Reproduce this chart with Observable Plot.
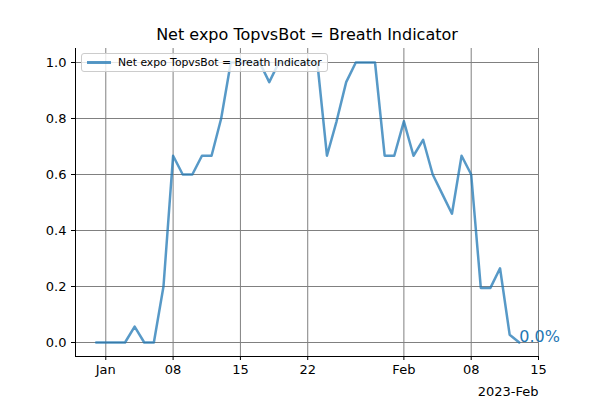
<!DOCTYPE html>
<html>
<head>
<meta charset="UTF-8">
<script src="https://cdn.jsdelivr.net/npm/d3@7"></script>
<script src="https://cdn.jsdelivr.net/npm/@observablehq/plot@0.6"></script>
<style>
  body { margin: 0; font-family: "DejaVu Sans", sans-serif; }
  #wrap { position: relative; width: 600px; height: 400px; }
  #legend {
    position: absolute; left: 81px; top: 53px; padding: 2px 5px;
    border: 1px solid #ccc; border-radius: 3px; background: rgba(255,255,255,0.8);
    font-size: 10.8px; display: flex; align-items: center; gap: 7px;
  }
  #legend span.sw { display: inline-block; width: 24px; height: 2.5px; background: #1f77b4; opacity: 0.75; }
</style>
</head>
<body>
<div id="wrap"><div id="legend"><span class="sw"></span>Net expo TopvsBot = Breath Indicator</div></div>
<script>
  const startDate = "2022-12-31";
  // daily values, Dec 31 2022 .. Feb 13 2023
  const values = [
    0, 0, 0, 0, 0.057, 0, 0, 0.2, 0.667, 0.6, 0.6, 0.667, 0.667, 0.8, 1.0,
    1.0, 1.0, 1.0, 0.93, 1.0, 1.0, 1.0, 1.0, 1.0, 0.667, 0.79, 0.93, 1.0, 1.0, 1.0,
    0.667, 0.667, 0.79, 0.667, 0.724, 0.6, 0.53, 0.46, 0.667, 0.6, 0.195, 0.195, 0.265, 0.028, 0
  ];
  const tickDates = ["2023-01-01", "2023-01-08", "2023-01-15", "2023-01-22", "2023-02-01", "2023-02-08", "2023-02-15"];
  const tickLabels = ["Jan", "08", "15", "22", "Feb", "08", "15"];
  const yTicks = [0, 0.2, 0.4, 0.6, 0.8, 1.0];

  const t0 = new Date(startDate + "T00:00:00Z");
  const data = values.map((v, i) => ({ date: new Date(+t0 + i * 864e5), v }));
  const ticks = tickDates.map(d => new Date(d + "T00:00:00Z"));
  const last = data[data.length - 1];

  const plot = Plot.plot({
    width: 600, height: 400,
    marginLeft: 75, marginRight: 62, marginTop: 48, marginBottom: 44,
    style: { fontFamily: "DejaVu Sans, sans-serif", fontSize: "13px", color: "#000" },
    x: { type: "utc", domain: [new Date(+t0 - 2.15 * 864e5), new Date("2023-02-15T00:00:00Z")] },
    y: { domain: [-0.05, 1.05] },
    marks: [
      Plot.gridX(ticks, { stroke: "#808080", strokeOpacity: 1 }),
      Plot.gridY(yTicks, { stroke: "#808080", strokeOpacity: 1 }),
      Plot.axisX(ticks, { tickFormat: (d, i) => tickLabels[i], tickSize: 4, tickPadding: 4, label: null, fontSize: 13 }),
      Plot.axisY(yTicks, { tickFormat: d3.format(".1f"), tickSize: 4, label: null, fontSize: 13 }),
      Plot.frame({ anchor: "left" }),
      Plot.frame({ anchor: "bottom" }),
      Plot.lineY(data, { x: "date", y: "v", stroke: "#1f77b4", strokeOpacity: 0.75, strokeWidth: 2.5 }),
      Plot.text([last], { x: "date", y: "v", text: d => d3.format(".1%")(d.v), textAnchor: "start", dy: -6, fill: "#1f77b4", fontSize: 16 }),
      Plot.text(["Net expo TopvsBot = Breath Indicator"], { frameAnchor: "top", dy: -20, fontSize: 16 }),
      Plot.text(["2023-Feb"], { frameAnchor: "bottom-right", dy: 39, fontSize: 13, textAnchor: "end" })
    ]
  });
  document.getElementById("wrap").prepend(plot);
</script>
</body>
</html>
